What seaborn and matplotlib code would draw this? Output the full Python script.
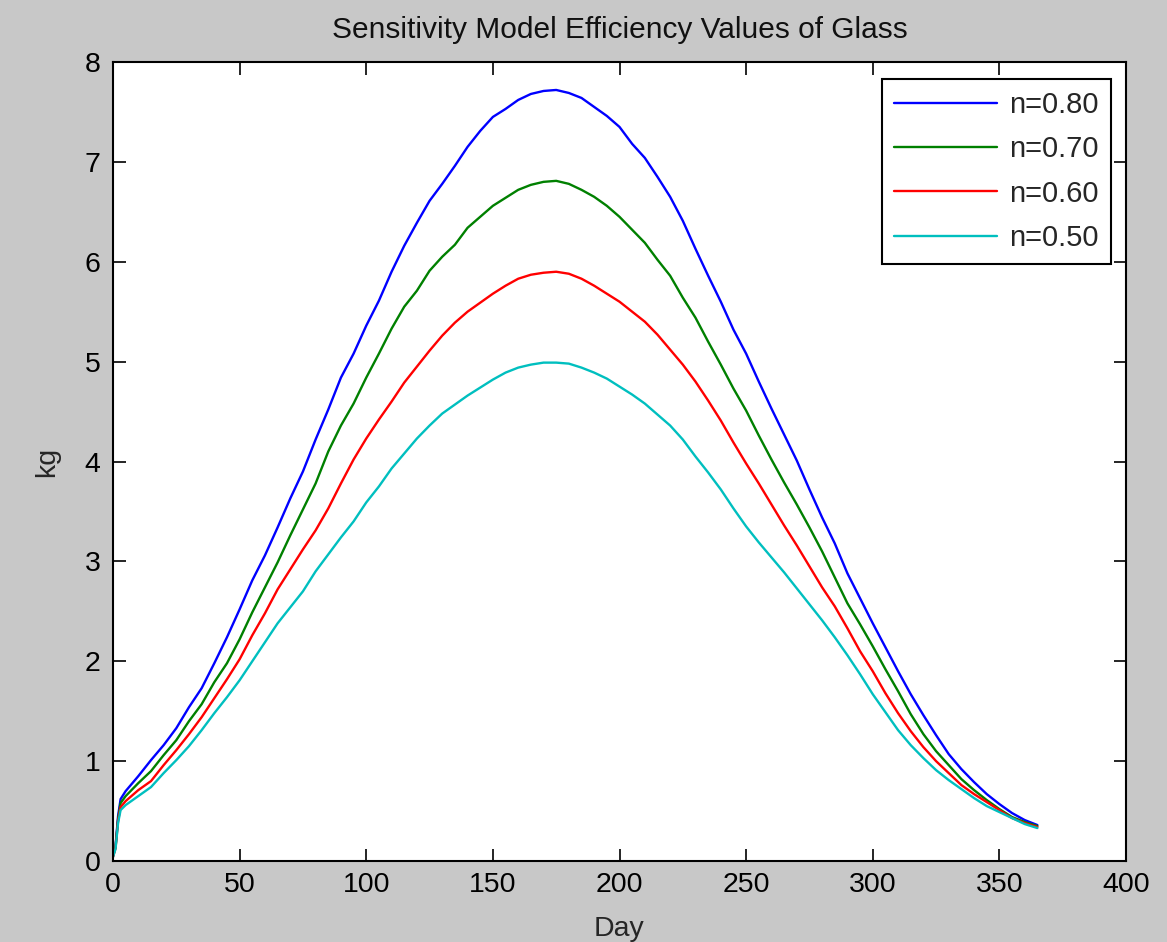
import numpy as np
import pandas as pd
import matplotlib
matplotlib.use("Agg")
import matplotlib.pyplot as plt
import seaborn as sns

days = [0, 1, 2, 3, 5, 10, 15, 20, 25, 30, 35, 40, 45, 50, 55, 60, 65, 70, 75, 80,
        85, 90, 95, 100, 105, 110, 115, 120, 125, 130, 135, 140, 145, 150, 155, 160,
        165, 170, 175, 180, 185, 190, 195, 200, 205, 210, 215, 220, 225, 230, 235,
        240, 245, 250, 255, 260, 265, 270, 275, 280, 285, 290, 295, 300, 305, 310,
        315, 320, 325, 330, 335, 340, 345, 350, 355, 360, 365]

n080 = [0.05, 0.15, 0.45, 0.62, 0.70, 0.85, 1.01, 1.16, 1.33, 1.54, 1.73, 1.98, 2.24,
        2.52, 2.81, 3.06, 3.34, 3.63, 3.90, 4.22, 4.52, 4.84, 5.08, 5.36, 5.61, 5.90,
        6.16, 6.39, 6.61, 6.78, 6.96, 7.15, 7.31, 7.45, 7.53, 7.62, 7.68, 7.71, 7.72,
        7.69, 7.64, 7.55, 7.46, 7.35, 7.18, 7.04, 6.85, 6.65, 6.41, 6.13, 5.86, 5.60,
        5.32, 5.08, 4.80, 4.53, 4.27, 4.01, 3.72, 3.44, 3.18, 2.88, 2.63, 2.38, 2.14,
        1.90, 1.67, 1.46, 1.26, 1.07, 0.92, 0.79, 0.67, 0.57, 0.48, 0.41, 0.36]

n070 = [0.05, 0.14, 0.42, 0.58, 0.65, 0.78, 0.90, 1.06, 1.21, 1.40, 1.57, 1.79, 1.98,
        2.22, 2.49, 2.74, 2.99, 3.26, 3.52, 3.78, 4.10, 4.36, 4.58, 4.84, 5.08, 5.33,
        5.55, 5.71, 5.91, 6.05, 6.17, 6.34, 6.45, 6.56, 6.64, 6.72, 6.77, 6.80, 6.81,
        6.78, 6.72, 6.65, 6.56, 6.45, 6.32, 6.19, 6.02, 5.86, 5.64, 5.44, 5.20, 4.97,
        4.73, 4.51, 4.26, 4.02, 3.79, 3.57, 3.34, 3.10, 2.84, 2.58, 2.37, 2.15, 1.92,
        1.70, 1.47, 1.27, 1.10, 0.96, 0.82, 0.71, 0.61, 0.52, 0.44, 0.39, 0.35]

n060 = [0.04, 0.13, 0.40, 0.54, 0.60, 0.71, 0.80, 0.96, 1.11, 1.27, 1.44, 1.63, 1.82,
        2.02, 2.26, 2.48, 2.72, 2.92, 3.12, 3.31, 3.53, 3.78, 4.02, 4.23, 4.42, 4.60,
        4.79, 4.95, 5.11, 5.26, 5.39, 5.50, 5.59, 5.68, 5.76, 5.83, 5.87, 5.89, 5.90,
        5.88, 5.83, 5.76, 5.68, 5.60, 5.50, 5.40, 5.27, 5.12, 4.97, 4.80, 4.61, 4.41,
        4.19, 3.98, 3.78, 3.57, 3.36, 3.16, 2.95, 2.74, 2.55, 2.33, 2.10, 1.90, 1.68,
        1.48, 1.30, 1.14, 1.00, 0.88, 0.76, 0.67, 0.59, 0.51, 0.43, 0.38, 0.34]

n050 = [0.04, 0.12, 0.38, 0.51, 0.56, 0.65, 0.74, 0.88, 1.01, 1.15, 1.31, 1.48, 1.64,
        1.81, 2.00, 2.19, 2.38, 2.54, 2.70, 2.90, 3.07, 3.24, 3.40, 3.59, 3.75, 3.93,
        4.08, 4.23, 4.36, 4.48, 4.57, 4.66, 4.74, 4.82, 4.89, 4.94, 4.97, 4.99, 4.99,
        4.98, 4.94, 4.89, 4.83, 4.75, 4.67, 4.58, 4.47, 4.36, 4.22, 4.05, 3.89, 3.72,
        3.53, 3.35, 3.19, 3.04, 2.89, 2.73, 2.57, 2.41, 2.24, 2.06, 1.87, 1.67, 1.49,
        1.31, 1.16, 1.03, 0.91, 0.81, 0.72, 0.63, 0.55, 0.49, 0.43, 0.37, 0.33]

labels = ["n=0.80", "n=0.70", "n=0.60", "n=0.50"]
colors = ["#0000ff", "#008000", "#ff0000", "#00bfbf"]
series = [n080, n070, n060, n050]

title = "Sensitivity Model Efficiency Values of Glass"
xlabel = "Day"
ylabel = "kg"
xticks = [0, 50, 100, 150, 200, 250, 300, 350, 400]
yticks = [0, 1, 2, 3, 4, 5, 6, 7, 8]

rows = []
for lab, vals in zip(labels, series):
    for d, v in zip(days, vals):
        rows.append({"Day": d, "kg": v, "series": lab})
df = pd.DataFrame(rows)

sns.set_theme(style="ticks")
plt.rcParams["font.family"] = ["Liberation Sans", "DejaVu Sans"]

fig = plt.figure(figsize=(11.67, 9.42), dpi=100, facecolor="#c8c8c8")
ax = fig.add_axes([113/1167, 1 - 861/942, (1126-113)/1167, (861-62)/942])
ax.set_facecolor("white")

sns.lineplot(data=df, x="Day", y="kg", hue="series", hue_order=labels,
             palette=colors, linewidth=1.7, ax=ax, estimator=None, sort=False)

ax.set_xlim(0, 400)
ax.set_ylim(0, 8)
ax.set_xticks(xticks)
ax.set_yticks(yticks)
ax.tick_params(direction="in", top=True, right=True, length=9, width=1.2,
               labelsize=20.5, colors="black")
ax.tick_params(axis="x", pad=8)
ax.tick_params(axis="y", pad=9)
for s in ax.spines.values():
    s.set_visible(True)
    s.set_color("black")
    s.set_linewidth(1.5)

ax.set_title(title, fontsize=21.5, pad=17, color="#111111")
ax.set_xlabel(xlabel, fontsize=20.5, labelpad=13)
ax.set_ylabel(ylabel, fontsize=20.5, labelpad=18)

leg = ax.legend(loc="upper right", bbox_to_anchor=(0.985, 0.979), borderaxespad=0,
                fontsize=21, frameon=True, fancybox=False, framealpha=1,
                edgecolor="black", facecolor="white", handlelength=3.55,
                handletextpad=0.4, labelspacing=0.56, borderpad=0.42, title=None)
leg.get_frame().set_linewidth(1.5)

fig.savefig("out.png", dpi=100, facecolor=fig.get_facecolor())
